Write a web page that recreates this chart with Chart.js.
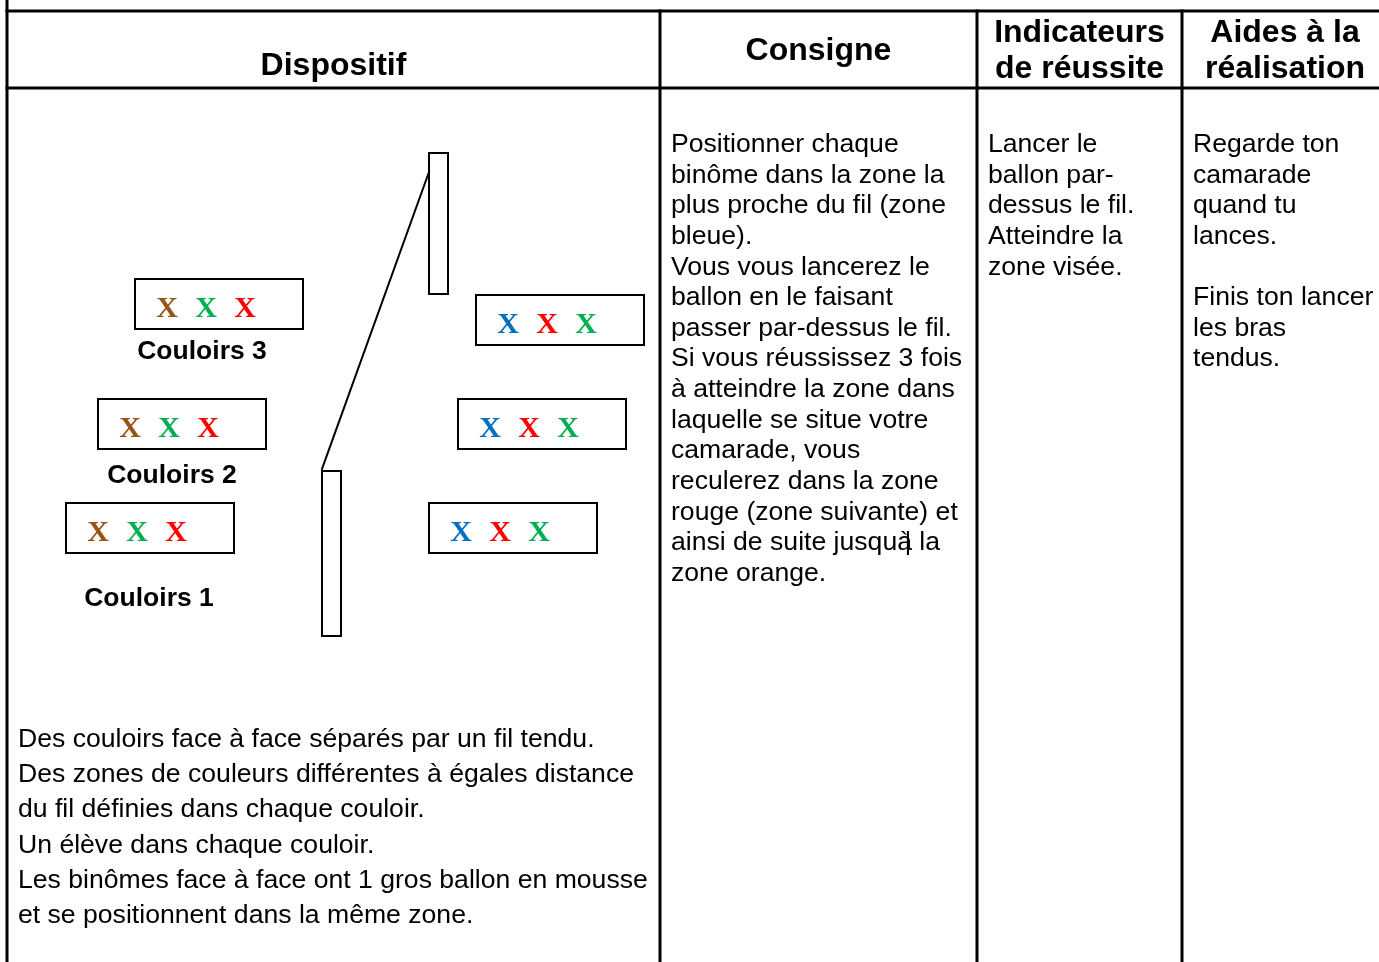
<!DOCTYPE html>
<html lang="fr">
<head>
<meta charset="utf-8">
<title>Dispositif - Consigne</title>
<script src="https://cdn.jsdelivr.net/npm/chart.js@4/dist/chart.umd.min.js"></script>
<style>
  html, body { margin: 0; padding: 0; background: #ffffff; }
  #wrap { width: 1379px; height: 962px; }
</style>
</head>
<body>
<div id="wrap"><canvas id="fiche" width="1379" height="962"></canvas></div>
<script>
// ==========================================
// DONNÉES (unités = repère de la fiche, 1379 x 962)
// ==========================================
const gridColumns = [7, 660, 977, 1182, 1388];
const gridRows = [11, 88, 962];

const headerTitles = [['Dispositif'], ['Consigne'], ['Indicateurs', 'de réussite'], ['Aides à la', 'réalisation']];
const headerAlign = ['bottom', 'middle', 'middle', 'middle'];

const consigneLines = [
  'Positionner chaque', 'binôme dans la zone la', 'plus proche du fil (zone', 'bleue).',
  'Vous vous lancerez le', 'ballon en le faisant', 'passer par-dessus le fil.',
  'Si vous réussissez 3 fois', 'à atteindre la zone dans', 'laquelle se situe votre',
  'camarade, vous', 'reculerez dans la zone', 'rouge (zone suivante) et',
  'ainsi de suite jusquà la', 'zone orange.'
];
const indicateursLines = ['Lancer le', 'ballon par-', 'dessus le fil.', 'Atteindre la', 'zone visée.'];
const aidesLines = ['Regarde ton', 'camarade', 'quand tu', 'lances.', '', 'Finis ton lancer', 'les bras', 'tendus.'];
const dispositifNotes = [
  'Des couloirs face à face séparés par un fil tendu.',
  'Des zones de couleurs différentes à égales distance',
  'du fil définies dans chaque couloir.',
  'Un élève dans chaque couloir.',
  'Les binômes face à face ont 1 gros ballon en mousse',
  'et se positionnent dans la même zone.'
];

// schéma : couloirs, zones, fil
const laneLabels = ['Couloirs 3', 'Couloirs 2', 'Couloirs 1'];
const laneLabelX = [202, 172, 149];
const laneLabelY = [352, 476, 599];
const leftZoneX = [135, 98, 66];
const leftZoneY = [279, 399, 503];
const rightZoneX = [476, 458, 429];
const rightZoneY = [295, 399, 503];
const leftMarks = ['brown', 'green', 'red'];
const rightMarks = ['blue', 'red', 'green'];
const postX = [429, 322];
const postTop = [153, 471];
const postBottom = [294, 636];
const wireX = [429, 322];
const wireY = [172, 469];

// ==========================================
// STYLES
// ==========================================
const ZONE_W = 168, ZONE_H = 50, POST_W = 19;
const MARK_DX = [32, 71, 110], MARK_DY = 29;
const markColors = { brown: '#985514', green: '#00b050', red: '#ff0000', blue: '#0070c0' };
const SANS = '"Liberation Sans", Arial, sans-serif';
const SERIF = '"Liberation Serif", "Times New Roman", serif';

function rect(x, y, w, h) {
  return [{ x: x, y: y }, { x: x + w, y: y }, { x: x + w, y: y + h }, { x: x, y: y + h }, { x: x, y: y }];
}
function seg(x1, y1, x2, y2) {
  return [{ x: x1, y: y1 }, { x: x2, y: y2 }];
}
function lineDs(data, width) {
  return {
    type: 'line', data: data, showLine: true, borderColor: '#000000', borderWidth: width,
    pointRadius: 0, fill: false, tension: 0, spanGaps: false, borderCapStyle: 'square'
  };
}

// grille du tableau
const datasets = [];
datasets.push(lineDs(seg(gridColumns[0], 0, gridColumns[0], gridRows[2]), 3));
for (let i = 1; i < gridColumns.length - 1; i++) {
  datasets.push(lineDs(seg(gridColumns[i], gridRows[0], gridColumns[i], gridRows[2]), 3));
}
for (let j = 0; j < 2; j++) {
  datasets.push(lineDs(seg(gridColumns[0], gridRows[j], gridColumns[gridColumns.length - 1], gridRows[j]), 3));
}
// zones
leftZoneX.forEach((x, i) => datasets.push(lineDs(rect(x, leftZoneY[i], ZONE_W, ZONE_H), 2)));
rightZoneX.forEach((x, i) => datasets.push(lineDs(rect(x, rightZoneY[i], ZONE_W, ZONE_H), 2)));
// poteaux + fil
postX.forEach((x, i) => datasets.push(lineDs(rect(x, postTop[i], POST_W, postBottom[i] - postTop[i]), 2)));
datasets.push(lineDs(seg(wireX[0], wireY[0], wireX[1], wireY[1]), 2));

// ==========================================
// TEXTES (plugin)
// ==========================================
const textePlugin = {
  id: 'textes',
  afterDatasetsDraw(chart) {
    const ctx = chart.ctx;
    const sx = v => chart.scales.x.getPixelForValue(v);
    const sy = v => chart.scales.y.getPixelForValue(v);
    ctx.save();
    ctx.fillStyle = '#000000';
    ctx.textBaseline = 'alphabetic';

    // en-têtes
    ctx.font = 'bold 32px ' + SANS;
    ctx.textAlign = 'center';
    headerTitles.forEach((lines, i) => {
      const cx = (gridColumns[i] + gridColumns[i + 1]) / 2;
      const base = headerAlign[i] === 'bottom' ? [75] : (lines.length === 1 ? [60] : [42, 78]);
      lines.forEach((t, k) => ctx.fillText(t, sx(cx), sy(base[k])));
    });

    // colonnes de texte
    ctx.font = '26.6px ' + SANS;
    ctx.textAlign = 'left';
    const bloc = (lines, x, y0, step) => lines.forEach((t, k) => ctx.fillText(t, sx(x), sy(y0 + k * step)));
    bloc(consigneLines, gridColumns[1] + 11, 152, 30.64);
    bloc(indicateursLines, gridColumns[2] + 11, 152, 30.64);
    bloc(aidesLines, gridColumns[3] + 11, 152, 30.64);
    bloc(dispositifNotes, gridColumns[0] + 11, 747, 35.2);

    // barre parasite sur "jusquà"
    const k = consigneLines.length - 2;
    const pre = 'ainsi de suite jusqu';
    const wPre = ctx.measureText(pre).width;
    const wA = ctx.measureText('à').width;
    ctx.fillText('|', sx(gridColumns[1] + 11) + wPre + wA / 2, sy(152 + k * 30.64));

    // libellés des couloirs
    ctx.font = 'bold 26.5px ' + SANS;
    ctx.textAlign = 'center';
    ctx.textBaseline = 'middle';
    laneLabels.forEach((t, i) => ctx.fillText(t, sx(laneLabelX[i]), sy(laneLabelY[i])));

    // croix des zones
    ctx.font = 'bold 30px ' + SERIF;
    ctx.textBaseline = 'middle';
    const croix = (xs, ys, cols) => xs.forEach((x, i) => cols.forEach((c, j) => {
      ctx.fillStyle = markColors[c];
      ctx.fillText('X', sx(x + MARK_DX[j]), sy(ys[i] + MARK_DY + 1));
    }));
    croix(leftZoneX, leftZoneY, leftMarks);
    croix(rightZoneX, rightZoneY, rightMarks);
    ctx.restore();
  }
};

new Chart(document.getElementById('fiche'), {
  type: 'scatter',
  data: { datasets: datasets },
  options: {
    responsive: false,
    animation: false,
    events: [],
    layout: { padding: 0 },
    scales: {
      x: { type: 'linear', min: 0, max: 1379, display: false },
      y: { type: 'linear', min: 0, max: 962, reverse: true, display: false }
    },
    plugins: { legend: { display: false }, tooltip: { enabled: false } }
  },
  plugins: [textePlugin]
});
</script>
</body>
</html>
